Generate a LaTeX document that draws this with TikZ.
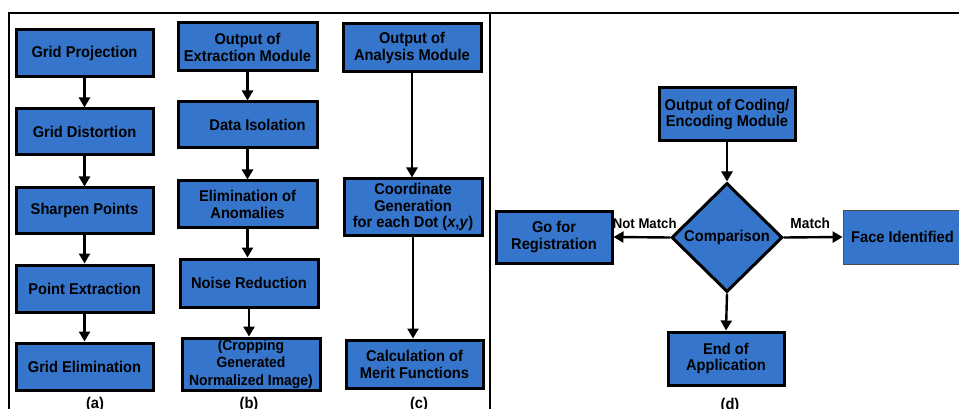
\documentclass[tikz,border=0pt]{standalone}
\usepackage{fontspec}
\setmainfont{Liberation Sans}[FakeStretch=0.94]
\usetikzlibrary{arrows.meta,shapes.geometric}
\definecolor{boxblue}{RGB}{53,117,203}
\begin{document}
\begin{tikzpicture}[x=1pt,y=-1pt,
  every node/.style={font=\fontsize{15.6}{16.9}\selectfont\bfseries},
  blk/.style={draw=black,line width=3pt,fill=boxblue,inner sep=0pt,align=center},
  arr/.style={line width=2.4pt,-{Triangle[length=10pt,width=11pt]}},
  frm/.style={line width=2.4pt},
  captxt/.style={inner sep=0pt},
  edgelbl/.style={inner sep=0pt,font=\fontsize{14.6}{16}\selectfont\bfseries}]
\useasboundingbox (0,0) rectangle (959,409);
% frame
\draw[frm] (9,409) -- (9,13) -- (959,13);
\draw[frm] (490,13) -- (490,409);
% panel (a)
\node[blk,minimum width=137pt,minimum height=47pt] (a1) at (84.5,53.5) {Grid Projection};
\node[blk,minimum width=137pt,minimum height=46pt] (a2) at (84.5,132) {Grid Distortion};
\node[blk,minimum width=137pt,minimum height=45pt] (a3) at (84.5,210.5) {Sharpen Points};
\node[blk,minimum width=137pt,minimum height=47pt] (a4) at (84.5,288.5) {Point Extraction};
\node[blk,minimum width=137pt,minimum height=47pt] (a5) at (84.5,366.5) {Grid Elimination};
\draw[arr] (a1) -- (a2);
\draw[arr] (a2) -- (a3);
\draw[arr] (a3) -- (a4);
\draw[arr] (a4) -- (a5);
\node[captxt] (la) at (95,404) {(a)};
% panel (b)
\node[blk,minimum width=139pt,minimum height=48pt] (b1) at (247.5,47) {Output of\\Extraction Module};
\node[blk,minimum width=139pt,minimum height=46pt] (b2) at (247.5,125) {\hspace*{20pt}Data Isolation};
\node[blk,minimum width=139pt,minimum height=46pt] (b3) at (247.5,204) {Elimination of\\Anomalies};
\node[blk,minimum width=138pt,minimum height=48pt] (b4) at (249,283) {Noise Reduction};
\node[blk,minimum width=138pt,minimum height=52pt,font=\fontsize{14.8}{17.3}\selectfont\bfseries] (b5) at (251,364) {(Cropping\\Generated\\Normalized Image)};
\draw[arr] (b1.south) -- (b1.south |- b2.north);
\draw[arr] (b2.south) -- (b2.south |- b3.north);
\draw[arr] (b3.south) -- (b3.south |- b4.north);
\draw[arr] (b4.south) -- (b4.south |- b5.north);
\node[captxt] (lb) at (249,404) {(b)};
% panel (c)
\node[blk,minimum width=138pt,minimum height=48pt] (c1) at (412,48) {Output of\\Analysis Module};
\node[blk,minimum width=138pt,minimum height=56pt] (c2) at (413,207) {Coordinate\\Generation\\for each Dot (\textit{x},\textit{y})};
\node[blk,minimum width=137pt,minimum height=48pt] (c3) at (414.5,364) {Calculation of\\Merit Functions};
\draw[arr] (c1.south) -- (c1.south |- c2.north);
\draw[arr] (c2.south) -- (c2.south |- c3.north);
\node[captxt] (lc) at (419,404) {(c)};
% panel (d)
\node[blk,minimum width=136pt,minimum height=53pt] (d1) at (727,114.5) {Output of Coding/\\Encoding Module};
\node[blk,diamond,aspect=1,minimum width=111pt,minimum height=109pt,inner sep=0pt] (cmp) at (727,237.5) {Comparison};
\node[blk,minimum width=116pt,minimum height=52pt] (go) at (554,237) {Go for\\Registration};
\node[draw=black!70,line width=0.8pt,fill=boxblue,inner sep=0pt,minimum width=119pt,minimum height=54pt] (face) at (902.5,237) {Face Identified};
\node[blk,minimum width=116pt,minimum height=53pt] (end) at (726,358.5) {End of\\Application};
\draw[arr] (d1) -- (cmp);
\draw[arr] (cmp.west) -- node[above,edgelbl,yshift=7pt,xshift=3pt,font=\fontsize{14}{15}\selectfont\bfseries] {Not Match} (go.east);
\draw[arr] (cmp.east) -- node[above,edgelbl,yshift=7pt,xshift=-3pt] {Match} (face.west);
\draw[arr] (cmp.south) -- (end.north);
\node[captxt] (ld) at (730,405) {(d)};
\end{tikzpicture}
\end{document}
